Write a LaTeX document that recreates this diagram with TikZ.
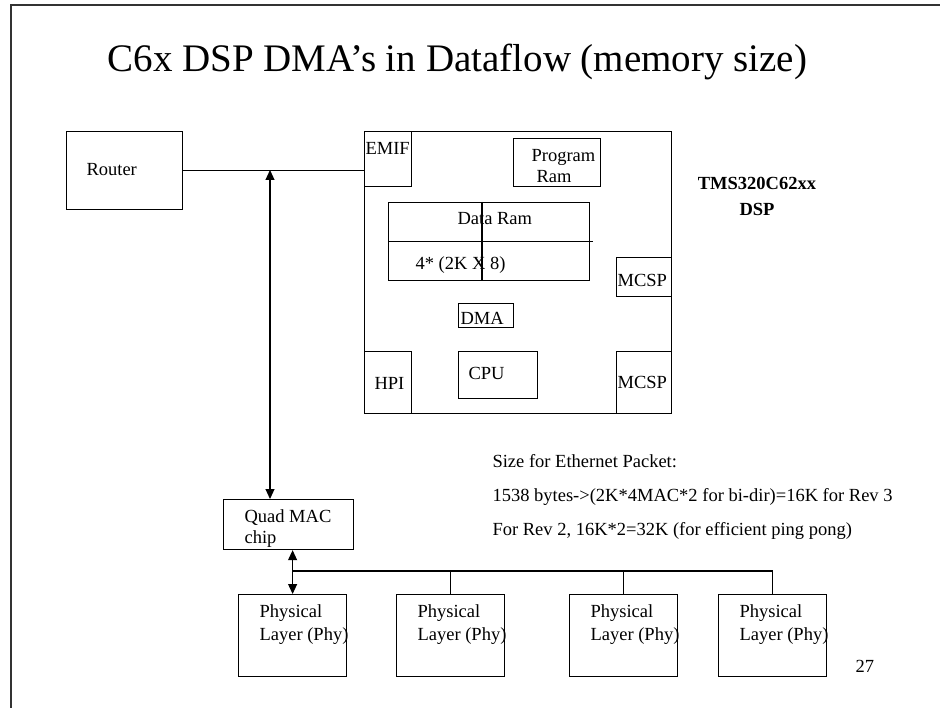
\documentclass[tikz,border=0pt]{standalone}
\usepackage{fontspec}
\setmainfont{Liberation Serif}
\usepackage{tikz}
\usetikzlibrary{positioning,arrows.meta}

\begin{document}
\begin{tikzpicture}[
x=1pt, y=-1pt,
box/.style={
draw,
line width=1.2pt,
inner sep=0pt,
anchor=north west
},
txt/.style={
inner sep=0pt,
anchor=base west,
align=left,
font=\fontsize{18.5}{22}\selectfont
},
>={Triangle[length=10pt,width=9pt]},
line width=1.1pt
]
\useasboundingbox (0,0) rectangle (940,708);

% slide frame
\draw[line width=1.6pt, black!80] (11,708) -- (11,5) -- (940,5);

\node[inner sep=0pt, anchor=base west, font=\fontsize{39}{44}\selectfont] (title) at (107,72)
{C6x DSP DMA’s in Dataflow (memory size)};

% router and DSP chip
\node[box, minimum width=116, minimum height=78] (router) at (66,131) {};
\node[box, minimum width=307, minimum height=282] (dsp) at (364,131) {};
\node[box, minimum width=47, minimum height=55] (emif) at (364,131) {};
\node[box, minimum width=87, minimum height=48] (program) at (513,138) {};
\node[box, minimum width=201, minimum height=78] (dataram) at (388,202) {};
\node[box, minimum width=55, minimum height=39] (mcspa) at (616,257) {};
\node[box, minimum width=55, minimum height=24] (dma) at (458,303) {};
\node[box, minimum width=47, minimum height=62] (hpi) at (364,351) {};
\node[box, minimum width=79, minimum height=47] (cpu) at (458,351) {};
\node[box, minimum width=55, minimum height=62] (mcspb) at (616,351) {};

\draw (dataram.west) -- ([xshift=3pt]dataram.east);
\draw ([xshift=94pt]dataram.north west) -- ([xshift=94pt]dataram.south west);

% texts (base of a multi-line text is its last line)
\node[txt] (routertxt) at (86,176) {Router};
\node[txt] (emiftxt) at (365,155) {EMIF};
\node[txt, font=\fontsize{18.5}{21}\selectfont] (progtxt) at (531,183) {Program\\\hspace*{5pt}Ram};
\node[txt] (datatxt) at (457,225) {Data Ram};
\node[txt] (banktxt) at (415,270) {4* (2K X 8)};
\node[txt] (mcspatxt) at (617,287) {MCSP};
\node[txt] (dmatxt) at (460,325) {DMA};
\node[txt] (hpitxt) at (374,390) {HPI};
\node[txt] (cputxt) at (468,380) {CPU};
\node[txt] (mcspbtxt) at (617,389) {MCSP};
\node[txt, anchor=base, align=center, font=\fontsize{18.5}{26}\selectfont\bfseries] (chiptxt) at (757,216)
{TMS320C62xx\\DSP};

% MAC and phy
\node[box, minimum width=130, minimum height=50] (quad) at (223,499) {};
\node[txt, font=\fontsize{18.5}{21}\selectfont] (quadtxt) at (244,543) {Quad MAC\\chip};

\foreach \i/\x in {1/238,2/396,3/569,4/718}{
\node[box, minimum width=108, minimum height=82] (phy\i) at (\x,594) {};
\node[txt, font=\fontsize{18.5}{23}\selectfont] (phytxt\i) at (\x+21,640) {Physical\\Layer (Phy)};
}

\node[txt, font=\fontsize{18.5}{34}\selectfont] (pkttxt) at (492,535)
{Size for Ethernet Packet:\\
1538 bytes->(2K*4MAC*2 for bi-dir)=16K for Rev 3\\
For Rev 2, 16K*2=32K (for efficient ping pong)};

\node[txt] (pagenum) at (855,672) {27};

% connections
\draw (router.east) -- (router.east -| emif.west);
\coordinate (tap) at (270,170);
\draw[<->] (tap) -- (tap |- quad.north);
\draw[<->] (quad.south -| phy1.north) -- (phy1.north);
\coordinate (bus) at (293,571);
\draw (bus) -| (phy4.north);
\draw (bus -| phy2.north) -- (phy2.north);
\draw (bus -| phy3.north) -- (phy3.north);

\end{tikzpicture}
\end{document}
